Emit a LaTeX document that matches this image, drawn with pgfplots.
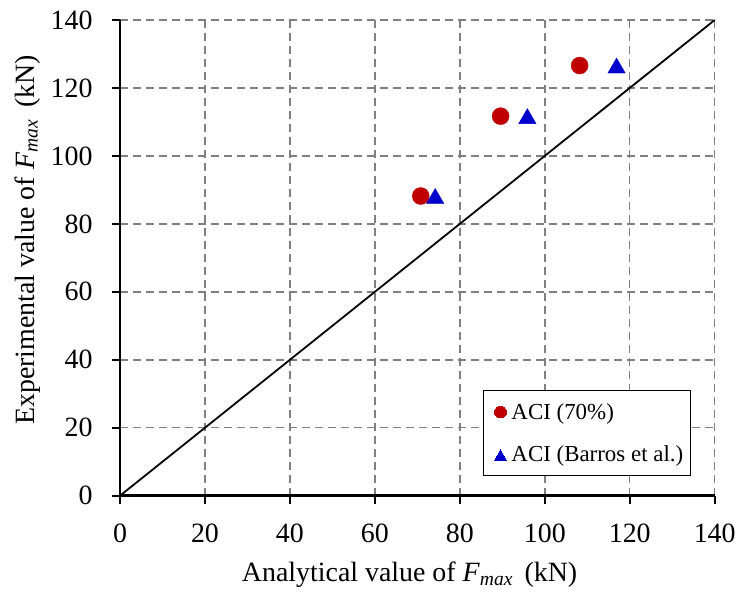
\documentclass[border=0pt]{standalone}
\usepackage{pgfplots}
\pgfplotsset{compat=1.18}
\usepackage{fontspec}
\setmainfont{Liberation Serif}
\definecolor{ptred}{HTML}{C00000}
\definecolor{ptblue}{HTML}{0000CC}
\definecolor{gridgray}{HTML}{808080}
\begin{document}
\begin{tikzpicture}
\useasboundingbox (-120bp,-102.3bp) rectangle (618bp,495.7bp);
\begin{axis}[
  at={(0,0)}, anchor=south west,
  scale only axis,
  width=594.7bp, height=475.7bp,
  xmin=0, xmax=140, ymin=0, ymax=140,
  xtick={0,20,...,140}, ytick={0,20,...,140},
  axis lines*=left,
  axis line style={line width=2.5bp, black, -},
  tick style={line width=1.8bp, black},
  tick align=outside,
  major tick length=8bp,
  grid=major,
  major grid style={gridgray, line width=1.5bp, dash pattern=on 8bp off 5bp},
  tick label style={font=\fontsize{28}{32}\selectfont},
  /pgf/number format/assume math mode=true,
  xticklabel style={anchor=north, yshift=-17bp},
  yticklabel style={anchor=east, xshift=-16bp},
  label style={font=\fontsize{28}{32}\selectfont},
  xlabel={Analytical value of \textit{F}\textsubscript{\textit{max}}\,\ (kN)},
  ylabel={Experimental value of \textit{F}\textsubscript{\textit{max}}\,\ (kN)},
  xlabel style={at={(axis description cs:0.487,-0.1814)}, anchor=base},
  ylabel style={at={(axis description cs:-0.1446,0.5375)}, anchor=base, rotate=0},
  legend style={at={(0.96,0.041)}, anchor=south east, draw=black, line width=1.3bp,
    font=\fontsize{23}{27}\selectfont, row sep=21bp, inner xsep=5bp, inner ysep=10.5bp,
    legend cell align=left},
  legend image code/.code={%
    \path[draw=none] (-12bp,-1bp) rectangle (9bp,1bp);
    \draw[#1, line width=0pt, /tikz/every mark/.append style={scale=0.7}] plot coordinates {(0bp,0bp)};},
  clip=false,
]
\addplot[black, line width=1.8bp, forget plot] coordinates {(0,0) (140,140)};
\addplot[only marks, mark=*, mark size=8.5bp, ptred, mark options={draw=ptred, fill=ptred}]
  coordinates {(70.8,88.2) (89.6,111.7) (108.2,126.6)};
\addlegendentry{ACI (70\%)}
\addplot[only marks, mark=triangle*, mark size=10bp, ptblue, mark options={draw=ptblue, fill=ptblue, yshift=-2.5bp}]
  coordinates {(74.2,88.2) (95.9,111.7) (116.9,126.6)};
\addlegendentry{ACI (Barros et al.)}
\end{axis}
\end{tikzpicture}
\end{document}
